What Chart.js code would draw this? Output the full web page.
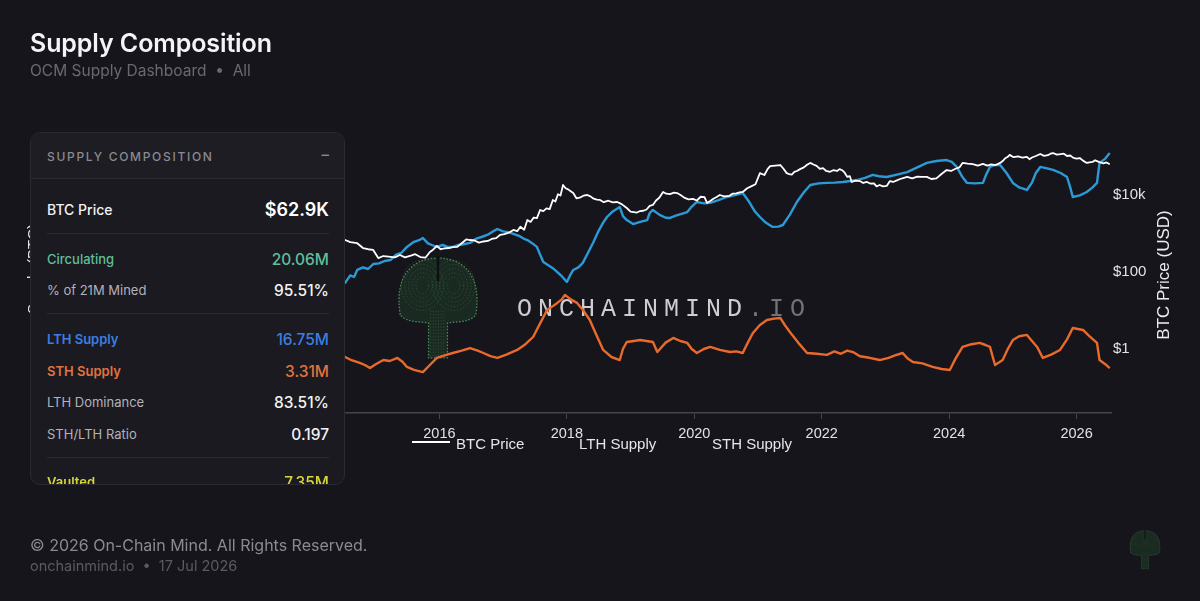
<!DOCTYPE html>
<html>
<head>
<meta charset="utf-8">
<script src="https://cdn.jsdelivr.net/npm/chart.js@4.4.1/dist/chart.umd.min.js"></script>
<style>
  html, body { margin: 0; padding: 0; background: #16151c; width: 1200px; height: 601px; overflow: hidden; }
  body { position: relative; font-family: Inter, "Noto Sans", sans-serif; }
  #chart { position: absolute; left: 0; top: 0; }
  .abs { position: absolute; white-space: nowrap; }
  #title { left: 30px; top: 28px; font-size: 25px; font-weight: 600; color: #f4f4f6; letter-spacing: -0.1px; }
  #subtitle { left: 30px; top: 61px; font-size: 15.5px; color: #6a6971; }
  .panel { position: absolute; left: 30px; top: 132px; width: 313px; height: 351px; background: #1b1a21; border: 1px solid #2b2a31; border-radius: 10px; overflow: hidden; }
  .phead { position: absolute; left: 0; top: 0; width: 100%; height: 45px; background: #1e1d24; border-bottom: 1px solid #2b2a31; }
  .phead span { position: absolute; top: 16px; font-size: 12px; font-weight: 500; letter-spacing: 1.7px; color: #8b8a91; }
  .row { position: absolute; left: 16px; right: 15px; height: 20px; }
  .row .l { position: absolute; left: 0; top: 50%; transform: translateY(-50%); font-size: 13px; }
  .row .v { position: absolute; right: 0; top: 50%; transform: translateY(-50%); font-size: 15.5px; font-weight: 500; }
  .sep { position: absolute; left: 16px; right: 15px; height: 1px; background: #2c2b32; }
  #foot1 { left: 30px; top: 535px; font-size: 16px; color: #8b8a91; }
  #foot2 { left: 30px; top: 557px; font-size: 14.5px; color: #5b5a62; }
</style>
</head>
<body>
<canvas id="chart" width="1200" height="601"></canvas>

<div id="title" class="abs">Supply Composition</div>
<div id="subtitle" class="abs">OCM Supply Dashboard &nbsp;•&nbsp; All</div>

<div class="panel">
  <div class="phead"><span style="left:16px">SUPPLY COMPOSITION</span><span style="right:15px;top:12px;font-size:15px;letter-spacing:0">–</span></div>
  <div class="row" style="top:66px"><span class="l" style="color:#f2f2f4;font-size:14px;font-weight:500">BTC Price</span><span class="v" style="color:#fff;font-size:18px;font-weight:600">$62.9K</span></div>
  <div class="sep" style="top:100px"></div>
  <div class="row" style="top:116px"><span class="l" style="color:#5fbf9a;font-weight:500">Circulating</span><span class="v" style="color:#5fbf9a">20.06M</span></div>
  <div class="row" style="top:147px"><span class="l" style="color:#b3b2b9">% of 21M Mined</span><span class="v" style="color:#f2f2f4">95.51%</span></div>
  <div class="sep" style="top:180px"></div>
  <div class="row" style="top:196px"><span class="l" style="color:#3d7ee0;font-weight:600">LTH Supply</span><span class="v" style="color:#3d7ee0">16.75M</span></div>
  <div class="row" style="top:228px"><span class="l" style="color:#e2733e;font-weight:600">STH Supply</span><span class="v" style="color:#e2733e">3.31M</span></div>
  <div class="row" style="top:259px"><span class="l" style="color:#b3b2b9">LTH Dominance</span><span class="v" style="color:#f2f2f4">83.51%</span></div>
  <div class="row" style="top:291px"><span class="l" style="color:#b3b2b9">STH/LTH Ratio</span><span class="v" style="color:#f2f2f4">0.197</span></div>
  <div class="sep" style="top:324px"></div>
  <div class="row" style="top:339px"><span class="l" style="color:#d6d83a;font-weight:600">Vaulted</span><span class="v" style="color:#d6d83a">7.35M</span></div>
</div>

<div id="foot1" class="abs">© 2026 On-Chain Mind. All Rights Reserved.</div>
<div id="foot2" class="abs">onchainmind.io &nbsp;•&nbsp; 17 Jul 2026</div>

<script>
// ---- data (decimal years) ----
const priceYears = [2010.55, 2010.9, 2011.1, 2011.45, 2011.8, 2012.0, 2012.5, 2012.9, 2013.3, 2013.5, 2013.9, 2014.2,
  2014.52, 2014.6, 2014.71, 2014.8, 2014.88, 2014.96, 2015.04, 2015.12, 2015.2, 2015.3, 2015.38, 2015.46, 2015.55, 2015.62,
  2015.70, 2015.78, 2015.85, 2015.9, 2015.96, 2016.02, 2016.08, 2016.15, 2016.21, 2016.28, 2016.35, 2016.42, 2016.48,
  2016.55, 2016.62, 2016.69, 2016.76, 2016.82, 2016.89, 2016.95, 2017.02, 2017.09, 2017.16, 2017.22, 2017.27, 2017.33,
  2017.38, 2017.43, 2017.48, 2017.53, 2017.58, 2017.63, 2017.68, 2017.73, 2017.78, 2017.82, 2017.86, 2017.9, 2017.94,
  2017.98, 2018.02, 2018.06, 2018.10, 2018.15, 2018.2, 2018.26, 2018.32, 2018.37, 2018.42, 2018.47, 2018.52, 2018.58,
  2018.65, 2018.72, 2018.79, 2018.86, 2018.94, 2019.0, 2019.05, 2019.1, 2019.15, 2019.2, 2019.25, 2019.3, 2019.35,
  2019.4, 2019.45, 2019.51, 2019.56, 2019.62, 2019.68, 2019.73, 2019.79, 2019.85, 2019.91, 2019.98, 2020.04, 2020.1,
  2020.16, 2020.20, 2020.25, 2020.30, 2020.35, 2020.40, 2020.47, 2020.55, 2020.6, 2020.66, 2020.71, 2020.76, 2020.83,
  2020.9, 2020.96, 2021.03, 2021.1, 2021.15, 2021.19, 2021.27, 2021.35, 2021.4, 2021.45, 2021.49, 2021.53, 2021.57,
  2021.61, 2021.66, 2021.72, 2021.77, 2021.82, 2021.87, 2021.92, 2021.97, 2022.02, 2022.07, 2022.13, 2022.18, 2022.24,
  2022.28, 2022.32, 2022.36, 2022.40, 2022.44, 2022.47, 2022.53, 2022.6, 2022.65, 2022.71, 2022.76, 2022.82, 2022.86,
  2022.91, 2022.96, 2023.02, 2023.07, 2023.12, 2023.18, 2023.23, 2023.29, 2023.34, 2023.42, 2023.5, 2023.57, 2023.65,
  2023.72, 2023.8, 2023.88, 2023.96, 2024.03, 2024.1, 2024.16, 2024.21, 2024.29, 2024.37, 2024.45, 2024.53, 2024.6,
  2024.66, 2024.73, 2024.80, 2024.84, 2024.88, 2024.92, 2024.95, 2025.01, 2025.08, 2025.15, 2025.22, 2025.26, 2025.3,
  2025.36, 2025.43, 2025.49, 2025.55, 2025.59, 2025.63, 2025.69, 2025.75, 2025.8, 2025.85, 2025.9, 2025.95, 2026.0,
  2026.05, 2026.1, 2026.16, 2026.2, 2026.25, 2026.29, 2026.32, 2026.37, 2026.42, 2026.47, 2026.52];
const priceUsd = [0.07, 0.25, 0.9, 25, 4, 5, 7, 12, 180, 90, 1000, 600,
  677, 600, 560, 420, 390, 374, 230, 260, 250, 240, 276, 240, 265, 290,
  245, 235, 330, 380, 473, 390, 410, 420, 445, 450, 560, 700, 677,
  660, 580, 620, 640, 720, 760, 915, 960, 1050, 1235, 1150, 1500, 1250,
  2240, 2000, 2600, 2500, 4070, 3800, 4500, 4300, 7420, 6800, 10500, 9700, 18200,
  15000, 14000, 12500, 11200, 8200, 8500, 9600, 10000, 9200, 8000, 7600, 7420, 6500,
  7100, 6400, 6580, 5800, 4600, 3700, 3600, 3500, 3830, 3900, 4200, 5200, 5500,
  7200, 8500, 12000, 10800, 10500, 11500, 11200, 9800, 8400, 7700, 7900, 7200, 9000,
  8800, 6200, 7000, 8000, 8900, 10000, 9200, 9500, 10800, 11000, 11700, 12000, 15000,
  17000, 19000, 37000, 33000, 47000, 56000, 58000, 60000, 48000, 37000, 35000, 34000, 40000,
  42000, 47000, 52000, 61000, 68000, 62000, 57000, 48000, 50000, 42000, 40000, 44000, 42000,
  47000, 44000, 38000, 29500, 31000, 21800, 23500, 23000, 20500, 21800, 19800, 20000, 16800,
  18200, 16800, 17200, 23000, 21800, 24000, 26000, 28000, 29500, 27000, 30000, 29500, 29500,
  26000, 27000, 35000, 44500, 42000, 48000, 52000, 68000, 65000, 63000, 58000, 64000, 58000,
  62000, 60000, 68000, 76000, 90000, 98000, 110000, 96000, 100000, 93000, 98000, 85000, 94000,
  103000, 116000, 104000, 108000, 118000, 123000, 112000, 115000, 118000, 103000, 106000, 92000, 88000,
  91000, 78000, 68000, 70000, 72000, 80000, 76000, 70000, 66000, 70000, 62900];

const lthYears = [2010.55, 2011.5, 2012.5, 2013.5, 2014.2,
  2014.52, 2014.6, 2014.66, 2014.71, 2014.8, 2014.88, 2014.96, 2015.05, 2015.14, 2015.23, 2015.32, 2015.4, 2015.49,
  2015.6, 2015.68, 2015.74, 2015.82, 2015.88, 2015.96, 2016.05, 2016.12, 2016.21, 2016.3, 2016.38, 2016.48, 2016.58,
  2016.66, 2016.75, 2016.84, 2016.91, 2017.0, 2017.08, 2017.16, 2017.26, 2017.32, 2017.38, 2017.46, 2017.53, 2017.58,
  2017.63, 2017.72, 2017.78, 2017.85, 2017.92, 2018.00, 2018.05, 2018.10, 2018.18, 2018.25, 2018.33, 2018.41, 2018.5,
  2018.57, 2018.63, 2018.72, 2018.83, 2018.88, 2018.94, 2019.04, 2019.15, 2019.26, 2019.3, 2019.35, 2019.45, 2019.55,
  2019.62, 2019.72, 2019.8, 2019.89, 2019.96, 2020.04, 2020.15, 2020.25, 2020.38, 2020.51, 2020.62, 2020.76, 2020.86,
  2020.95, 2021.03, 2021.12, 2021.23, 2021.32, 2021.39, 2021.5, 2021.61, 2021.72, 2021.82, 2021.95, 2022.08, 2022.2,
  2022.33, 2022.45, 2022.55, 2022.68, 2022.80, 2022.9, 2023.02, 2023.18, 2023.34, 2023.5, 2023.65, 2023.8, 2023.96,
  2024.04, 2024.12, 2024.2, 2024.28, 2024.4, 2024.53, 2024.58, 2024.64, 2024.72, 2024.80, 2024.9, 2025.00, 2025.1,
  2025.22, 2025.3, 2025.36, 2025.43, 2025.52, 2025.63, 2025.75, 2025.85, 2025.9, 2025.94, 2026.05, 2026.16, 2026.25,
  2026.32, 2026.36, 2026.45, 2026.52];
const lthSupply = [2.0, 3.5, 5.5, 7.5, 8.3,
  8.63, 9.1, 9.0, 9.44, 9.6, 9.5, 9.81, 9.85, 10.0, 10.06, 10.4, 10.5, 10.88,
  11.2, 11.3, 11.44, 11.1, 11.0, 10.88, 11.0, 10.9, 10.88, 11.0, 11.05, 11.13, 11.4,
  11.5, 11.63, 11.85, 12.0, 11.85, 11.8, 11.69, 11.55, 11.4, 11.31, 11.1, 10.88, 10.4,
  9.94, 9.7, 9.55, 9.31, 9.05, 8.69, 9.1, 9.44, 9.6, 9.88, 10.5, 11.13, 11.9,
  12.4, 12.75, 13.1, 13.38, 12.8, 12.56, 12.31, 12.45, 12.56, 13.0, 13.19, 12.9, 12.7,
  12.69, 12.85, 12.95, 13.06, 13.4, 13.69, 13.6, 13.63, 13.8, 14.0, 14.1, 14.25, 13.7,
  13.1, 12.75, 12.4, 12.13, 12.15, 12.25, 12.9, 13.69, 14.3, 14.75, 14.85, 14.88, 14.9,
  14.94, 15.0, 15.06, 15.2, 15.38, 15.3, 15.25, 15.4, 15.56, 15.85, 16.13, 16.25, 16.31,
  16.2, 15.88, 15.3, 14.88, 14.85, 14.88, 15.4, 15.88, 16.0, 16.0, 15.5, 14.88, 14.6,
  14.44, 14.9, 15.5, 15.88, 15.8, 15.69, 15.5, 15.25, 14.6, 14.0, 14.1, 14.31, 14.6,
  14.88, 16.13, 16.4, 16.75];

const sthYears = [2010.55, 2011.5, 2012.5, 2013.5, 2014.2,
  2014.52, 2014.62, 2014.75, 2014.83, 2014.91, 2015.0, 2015.12, 2015.22, 2015.34, 2015.42, 2015.49, 2015.6, 2015.74,
  2015.85, 2015.96, 2016.08, 2016.21, 2016.35, 2016.48, 2016.6, 2016.69, 2016.8, 2016.91, 2017.05, 2017.22, 2017.35,
  2017.47, 2017.58, 2017.69, 2017.77, 2017.85, 2017.92, 2017.97, 2018.06, 2018.16, 2018.26, 2018.36, 2018.46, 2018.57,
  2018.7, 2018.83, 2018.88, 2018.94, 2019.05, 2019.15, 2019.25, 2019.35, 2019.42, 2019.55, 2019.67, 2019.78, 2019.89,
  2019.96, 2020.04, 2020.15, 2020.25, 2020.4, 2020.56, 2020.66, 2020.76, 2020.84, 2020.92, 2021.03, 2021.14, 2021.25,
  2021.35, 2021.42, 2021.50, 2021.63, 2021.77, 2021.92, 2022.08, 2022.2, 2022.3, 2022.4, 2022.49, 2022.6, 2022.75,
  2022.91, 2023.05, 2023.15, 2023.27, 2023.35, 2023.43, 2023.58, 2023.74, 2023.88, 2024.01, 2024.1, 2024.21, 2024.35,
  2024.48, 2024.57, 2024.64, 2024.72, 2024.84, 2024.92, 2025.00, 2025.1, 2025.22, 2025.3, 2025.38, 2025.47, 2025.6,
  2025.74, 2025.85, 2025.94, 2026.02, 2026.10, 2026.2, 2026.32, 2026.36, 2026.45, 2026.52];
const sthSupply = [1.6, 2.5, 3.2, 3.8, 4.2,
  4.0, 3.8, 3.63, 3.5, 3.31, 3.55, 3.81, 3.75, 3.94, 3.7, 3.38, 3.2, 3.06,
  3.5, 3.94, 4.1, 4.25, 4.4, 4.56, 4.4, 4.25, 4.05, 3.94, 4.15, 4.44, 4.8,
  5.25, 6.1, 6.94, 7.15, 7.38, 7.6, 7.88, 7.6, 7.38, 6.9, 6.31, 5.4, 4.44,
  4.0, 3.81, 4.5, 4.94, 5.0, 5.06, 5.0, 4.94, 4.31, 4.9, 5.19, 5.0, 4.88,
  4.5, 4.25, 4.5, 4.63, 4.45, 4.31, 4.35, 4.25, 4.9, 5.5, 6.0, 6.31, 6.4,
  6.44, 6.0, 5.56, 4.9, 4.25, 4.2, 4.13, 4.35, 4.2, 4.4, 4.31, 4.05, 3.95,
  3.81, 3.95, 4.1, 4.25, 3.9, 3.69, 3.6, 3.38, 3.25, 3.19, 3.9, 4.63, 4.8,
  4.88, 4.75, 4.63, 3.5, 3.81, 4.5, 5.06, 5.3, 5.38, 5.0, 4.63, 3.94, 4.15,
  4.44, 5.1, 5.81, 5.75, 5.69, 5.3, 4.88, 3.81, 3.55, 3.31];

const yearTicks = [2012, 2014, 2016, 2018, 2020, 2022, 2024, 2026];
const priceTicks = [1, 100, 10000];
const priceTickLabels = ['$1', '$100', '$10k'];

const toPoints = (xs, ys) => xs.map((x, i) => ({ x: x, y: ys[i] }));

// watermark, logos, legend and right title
const decor = {
  id: 'decor',
  beforeDatasetsDraw(chart) {
    const ctx = chart.ctx;
    drawBrain(ctx, 438, 256, 1.05);
    ctx.save();
    ctx.font = '25px "Liberation Mono"';
    ctx.letterSpacing = '6px';
    ctx.textBaseline = 'alphabetic';
    ctx.fillStyle = 'rgba(222,222,225,0.92)';
    ctx.fillText('ONCHAINMIND', 517, 316);
    const w = ctx.measureText('ONCHAINMIND').width;
    ctx.fillStyle = 'rgba(125,125,129,0.9)';
    ctx.fillText('.IO', 517 + w, 316);
    ctx.restore();
  },
  afterDraw(chart) {
    const ctx = chart.ctx;
    ctx.save();
    // legend
    const xs = [456, 579, 712];
    ctx.font = '15px "Liberation Sans", Arial';
    ctx.fillStyle = '#e6e6e8';
    ctx.textBaseline = 'alphabetic';
    chart.data.datasets.forEach((ds, i) => ctx.fillText(ds.label, xs[i], 448.5));
    ctx.strokeStyle = '#ffffff';
    ctx.lineWidth = 2;
    ctx.beginPath(); ctx.moveTo(412, 442); ctx.lineTo(450, 442); ctx.stroke();
    // right axis title
    ctx.translate(1164, 275);
    ctx.rotate(-Math.PI / 2);
    ctx.font = '17px "Liberation Sans", Arial';
    ctx.textAlign = 'center';
    ctx.textBaseline = 'middle';
    ctx.fillStyle = '#ececee';
    ctx.fillText('BTC Price (USD)', 0, 0);
    ctx.restore();
    drawBrain(ctx, 1145, 530, 0.4);
  }
};

function drawBrain(ctx, cx, top, s) {
  ctx.save();
  ctx.translate(cx, top);
  ctx.scale(s, s);
  ctx.beginPath();
  ctx.moveTo(-36, 56);
  ctx.bezierCurveTo(-42, 18, -24, 2, 0, 2);
  ctx.bezierCurveTo(24, 2, 42, 18, 36, 56);
  ctx.bezierCurveTo(30, 64, 16, 62, 9, 64);
  ctx.lineTo(9, 97);
  ctx.lineTo(-9, 97);
  ctx.lineTo(-9, 64);
  ctx.bezierCurveTo(-16, 62, -30, 64, -36, 56);
  ctx.closePath();
  ctx.fillStyle = 'rgba(30,62,38,0.5)';
  ctx.fill();
  ctx.setLineDash([1.5, 1.5]);
  ctx.strokeStyle = 'rgba(95,175,105,0.75)';
  ctx.lineWidth = 1.2;
  ctx.stroke();
  ctx.strokeStyle = 'rgba(80,150,90,0.35)';
  ctx.lineWidth = 0.8;
  for (let i = -7; i <= 7; i += 2.5) {
    ctx.beginPath(); ctx.moveTo(i, 52); ctx.lineTo(i, 97); ctx.stroke();
  }
  for (let k = 0; k < 5; k++) {
    ctx.beginPath(); ctx.ellipse(-15, 28, 6 + k * 3.5, 8 + k * 4, 0, 0, 2 * Math.PI); ctx.stroke();
    ctx.beginPath(); ctx.ellipse(15, 28, 6 + k * 3.5, 8 + k * 4, 0, 0, 2 * Math.PI); ctx.stroke();
  }
  ctx.setLineDash([]);
  ctx.strokeStyle = '#0f0f13';
  ctx.lineWidth = 2.2;
  ctx.beginPath(); ctx.moveTo(0, 0); ctx.lineTo(0, 24); ctx.stroke();
  ctx.restore();
}

new Chart(document.getElementById('chart'), {
  type: 'line',
  data: {
    datasets: [
      { label: 'BTC Price', data: toPoints(priceYears, priceUsd), yAxisID: 'yPrice', borderColor: '#ffffff', borderWidth: 1.8 },
      { label: 'LTH Supply', data: toPoints(lthYears, lthSupply), yAxisID: 'ySupply', borderColor: '#2c9ad6', borderWidth: 2.4 },
      { label: 'STH Supply', data: toPoints(sthYears, sthSupply), yAxisID: 'ySupply', borderColor: '#ea6a2b', borderWidth: 2.4 }
    ]
  },
  options: {
    responsive: false,
    animation: false,
    events: [],
    elements: { point: { radius: 0 }, line: { tension: 0, borderJoinStyle: 'round' } },
    layout: { padding: { left: 0, right: 0, top: 125, bottom: 148 } },
    plugins: { legend: { display: false }, tooltip: { enabled: false } },
    scales: {
      x: {
        type: 'linear', position: 'bottom', min: 2010.5, max: 2026.54,
        afterBuildTicks: s => { s.ticks = yearTicks.map(v => ({ value: v })); },
        afterFit: s => { s.height = 40; },
        ticks: { callback: v => String(v), color: '#e2e2e4', font: { family: '"Liberation Sans", Arial', size: 14.5 }, padding: 6, maxRotation: 0, autoSkip: false },
        grid: { drawOnChartArea: false, drawTicks: true, tickLength: 6, color: '#45444b' },
        border: { display: true, color: '#45444b', width: 1.5 }
      },
      ySupply: {
        type: 'linear', position: 'left', min: 0.5, max: 18.5,
        afterFit: s => { s.width = 89; },
        ticks: { display: false },
        grid: { display: false },
        border: { display: false },
        title: { display: true, text: 'Supply (BTC)', color: '#e6e6e8', font: { family: '"Liberation Sans", Arial', size: 15 }, padding: { top: 25, bottom: 0 } }
      },
      yPrice: {
        type: 'logarithmic', position: 'right', min: 0.0218, max: 657000,
        afterBuildTicks: s => { s.ticks = priceTicks.map(v => ({ value: v })); },
        afterFit: s => { s.width = 89; },
        ticks: { callback: v => priceTickLabels[priceTicks.indexOf(v)], color: '#e2e2e4', font: { family: '"Liberation Sans", Arial', size: 15 }, padding: 2 },
        grid: { display: false, drawTicks: false },
        border: { display: false }
      }
    }
  },
  plugins: [decor]
});
</script>
</body>
</html>
